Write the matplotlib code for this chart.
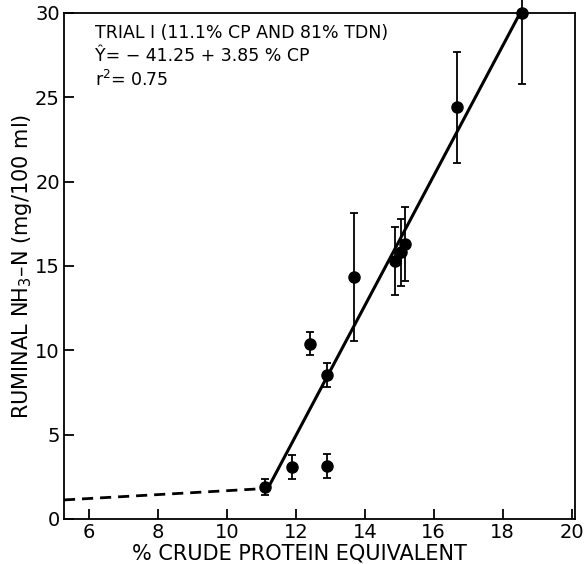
import numpy as np
import matplotlib
matplotlib.use("Agg")
import matplotlib.pyplot as plt

# data
cp = [11.1, 11.88, 12.91, 12.41, 12.89, 13.68, 14.87, 15.06, 15.16, 16.67, 18.57]
nh3 = [1.9, 3.1, 3.15, 10.4, 8.55, 14.35, 15.3, 15.8, 16.3, 24.4, 30.0]
err = [0.5, 0.7, 0.7, 0.7, 0.7, 3.8, 2.0, 2.0, 2.2, 3.3, 4.2]

fit_x = [11.2, 18.55]
dash_x = [5.27, 11.05]
dash_y = [1.13, 1.8]
intercept, slope = -41.25, 3.85

xticks = [6, 8, 10, 12, 14, 16, 18, 20]
yticks = [0, 5, 10, 15, 20, 25, 30]

plt.rcParams['font.family'] = ['DejaVu Sans']
fig = plt.figure(figsize=(5.84, 5.64), dpi=100)
ax = fig.add_axes([0.1096, 0.0798, 0.875, 0.8972])

fx = np.array(fit_x)
ax.plot(fx, intercept + slope * fx, color='black', lw=2.2, solid_capstyle='round', zorder=2)
ax.plot(dash_x, dash_y, color='black', lw=2.0, ls=(0, (4, 2.5)), zorder=2)
ax.errorbar(cp, nh3, yerr=err, fmt='o', color='black', ms=8, elinewidth=1.3,
            capsize=3, capthick=1.3, zorder=3, clip_on=False)

ax.set_xlim(5.27, 20.1)
ax.set_ylim(0, 30)
ax.set_xticks(xticks)
ax.set_yticks(yticks)
ax.tick_params(direction='in', length=7, width=1.3, labelsize=14, pad=3,
               top=False, right=False)
for s in ax.spines.values():
    s.set_linewidth(1.3)

ax.set_xlabel('% CRUDE PROTEIN EQUIVALENT', fontsize=15, labelpad=0)
ax.xaxis.set_label_coords(0.46, -0.048)
ax.set_ylabel('RUMINAL NH$_3$–N (mg/100 ml)', fontsize=15, labelpad=1)

ax.text(0.06, 0.978, 'TRIAL I (11.1% CP AND 81% TDN)', transform=ax.transAxes,
        fontsize=12.5, va='top', ha='left')
ax.text(0.06, 0.933, 'Ŷ= − 41.25 + 3.85 % CP', transform=ax.transAxes,
        fontsize=12.5, va='top', ha='left')
ax.text(0.06, 0.888, 'r$^2$= 0.75', transform=ax.transAxes,
        fontsize=12.5, va='top', ha='left')

fig.savefig('out.png', dpi=100)
